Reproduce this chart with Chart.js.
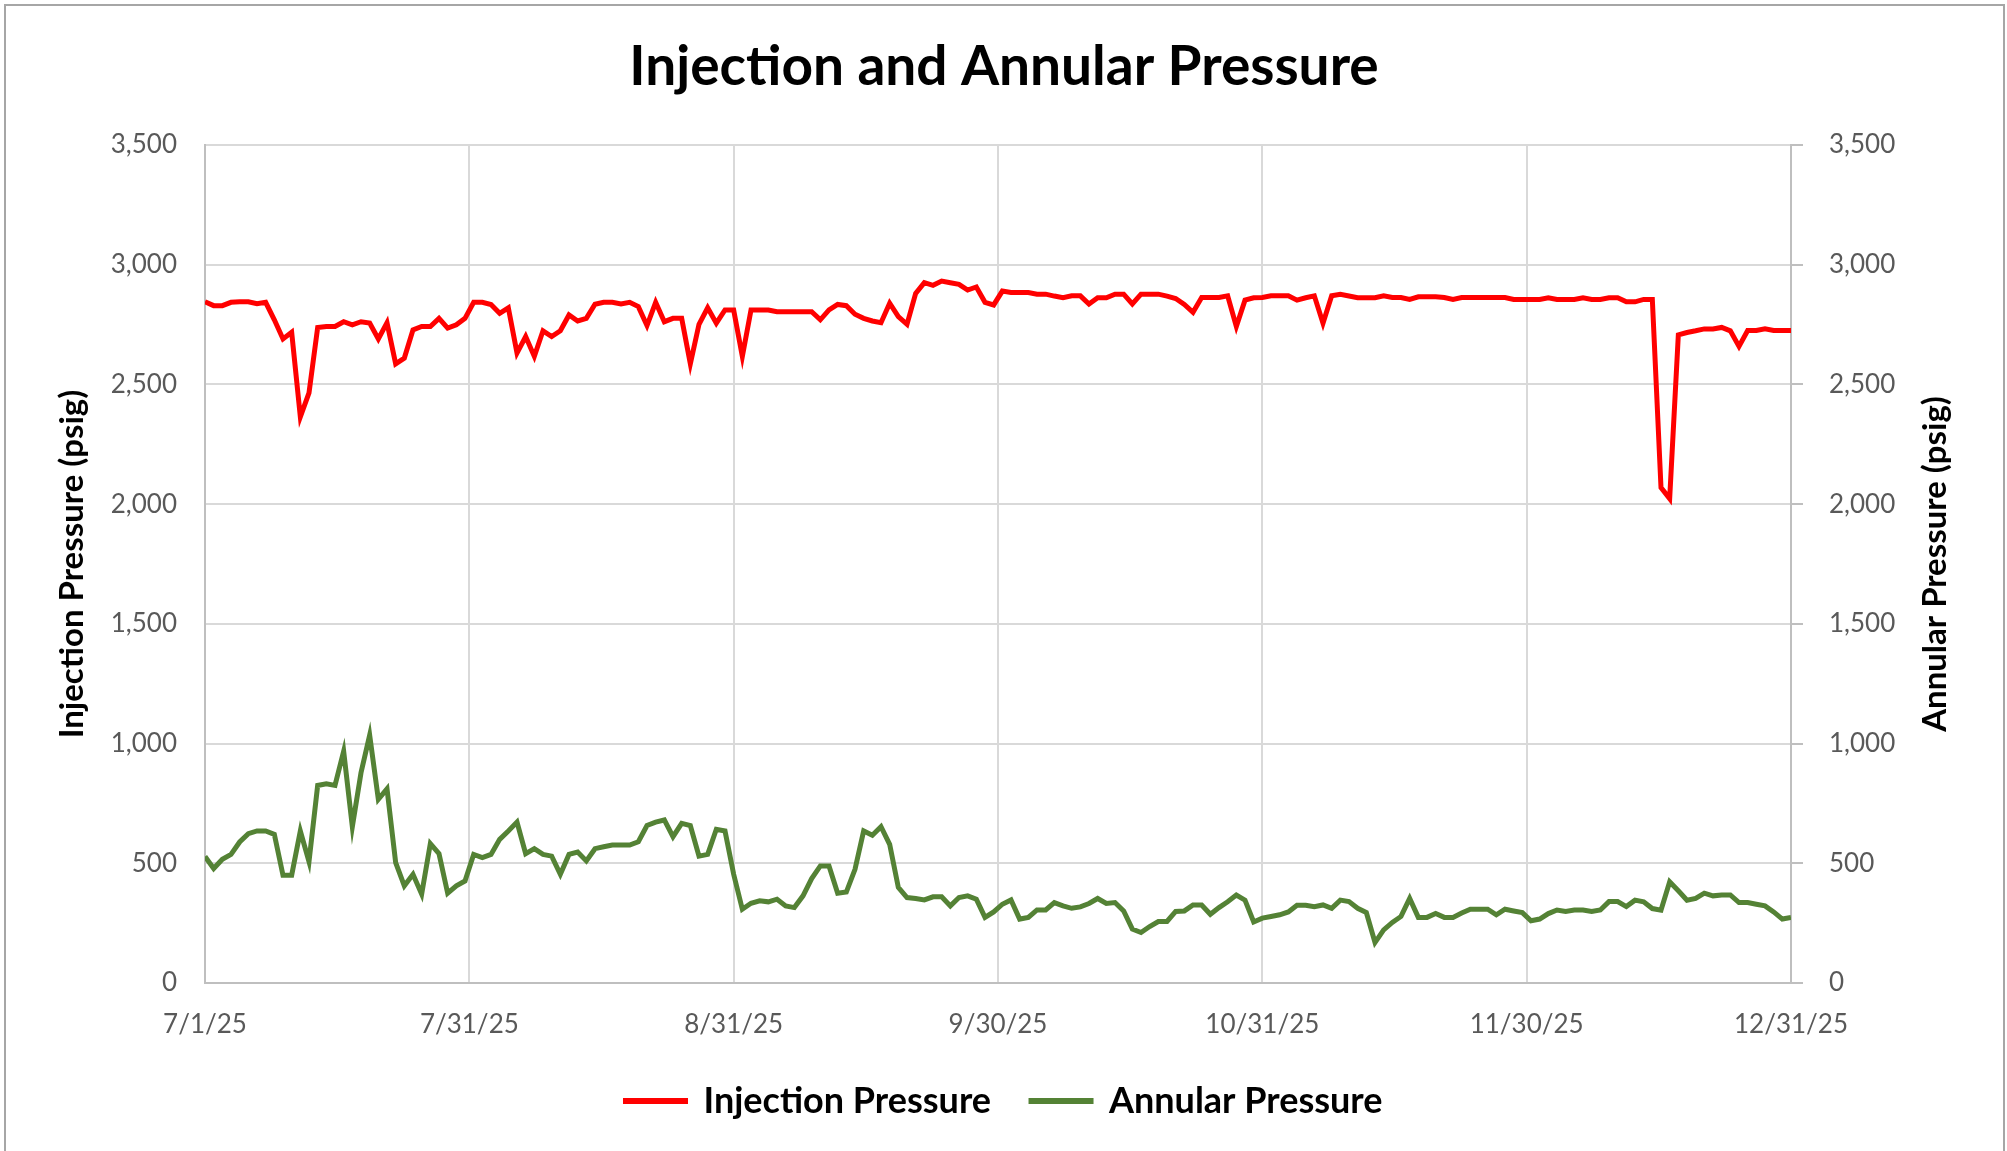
<!DOCTYPE html>
<html>
<head>
<meta charset="utf-8">
<title>Injection and Annular Pressure</title>
<script src="https://cdn.jsdelivr.net/npm/chart.js@4/dist/chart.umd.min.js"></script>
<style>
  html, body { margin: 0; padding: 0; background: #fff; }
  #wrap { width: 2007px; height: 1151px; position: relative; }
</style>
</head>
<body>
<div id="wrap"><canvas id="pressureChart"></canvas></div>
<script>
// daily readings, 7/1/25 .. 12/31/25
const injectionPressure = [
  2845, 2829, 2829, 2843, 2845, 2845, 2837, 2843, 2770, 2690,
  2718, 2365, 2465, 2738, 2742, 2742, 2762, 2749, 2762, 2756,
  2690, 2758, 2586, 2610, 2728, 2742, 2742, 2776, 2735, 2749,
  2776, 2843, 2843, 2834, 2797, 2820, 2631, 2700, 2617, 2724,
  2700, 2724, 2790, 2765, 2776, 2835, 2843, 2843, 2836, 2843,
  2825, 2746, 2843, 2762, 2776, 2776, 2586, 2751, 2820, 2756,
  2811, 2811, 2617, 2811, 2811, 2811, 2804, 2804, 2804, 2804,
  2804, 2770, 2811, 2834, 2829, 2793, 2776, 2765, 2758, 2839,
  2783, 2751, 2880, 2925, 2914, 2932, 2925, 2918, 2894, 2907,
  2843, 2832, 2890, 2884, 2884, 2884, 2877, 2877, 2869, 2862,
  2870, 2870, 2836, 2862, 2862, 2877, 2877, 2836, 2877, 2877,
  2877, 2869, 2859, 2834, 2801, 2863, 2863, 2863, 2870, 2742,
  2852, 2862, 2863, 2870, 2870, 2870, 2852, 2862, 2870, 2756,
  2870, 2876, 2869, 2862, 2862, 2862, 2870, 2863, 2863, 2855,
  2866, 2866, 2866, 2863, 2855, 2863, 2863, 2863, 2863, 2863,
  2863, 2855, 2855, 2855, 2855, 2862, 2855, 2855, 2855, 2862,
  2855, 2855, 2862, 2862, 2845, 2845, 2855, 2855, 2069, 2023,
  2707, 2717, 2724, 2732, 2732, 2738, 2724, 2659, 2725, 2725,
  2732, 2725, 2725, 2725
];

const annularPressure = [
  528, 478, 517, 537, 589, 624, 635, 635, 621, 450,
  450, 635, 507, 825, 832, 825, 968, 653, 878, 1035,
  767, 811, 503, 406, 454, 371, 582, 540, 375, 406,
  426, 537, 524, 537, 600, 635, 672, 540, 561, 537,
  530, 454, 537, 547, 510, 561, 569, 576, 576, 576,
  590, 658, 672, 681, 611, 667, 658, 530, 537, 642,
  635, 454, 308, 333, 343, 339, 350, 322, 315, 364,
  436, 489, 489, 375, 380, 475, 635, 617, 653, 579,
  399, 357, 353, 347, 360, 360, 322, 357, 364, 350,
  274, 297, 329, 347, 267, 274, 305, 305, 336, 322,
  312, 318, 332, 353, 332, 336, 301, 225, 211, 236,
  257, 257, 299, 301, 326, 326, 287, 315, 339, 367,
  346, 255, 271, 278, 285, 297, 325, 325, 319, 326,
  312, 346, 340, 312, 294, 169, 222, 253, 278, 353,
  274, 274, 290, 274, 274, 292, 308, 308, 308, 285,
  308, 301, 294, 260, 267, 290, 305, 299, 305, 305,
  299, 305, 340, 340, 319, 346, 339, 311, 304, 423,
  385, 346, 353, 375, 364, 368, 368, 336, 336, 329,
  322, 297, 267, 274
];

const xTickLabels = ["7/1/25", "7/31/25", "8/31/25", "9/30/25", "10/31/25", "11/30/25", "12/31/25"];
const yTicks = [0, 500, 1000, 1500, 2000, 2500, 3000, 3500];

const days = injectionPressure.length;
const xTickPos = xTickLabels.map((_, k) => k * (days - 1) / (xTickLabels.length - 1));

const gridColor = "#d9d9d9";
const axisColor = "#bfbfbf";
const tickFont = { family: "Lato", size: 26 };
const titleFont = { family: "Lato", size: 33, weight: "bold" };
const rightTitle = "Annular Pressure (psig)";

// white background + thin outer frame
const frame = {
  id: "frame",
  beforeDraw(chart) {
    const c = chart.ctx;
    c.save();
    c.fillStyle = "#fff";
    c.fillRect(0, 0, chart.width, chart.height);
    c.strokeStyle = "#a6a6a6";
    c.lineWidth = 2;
    c.strokeRect(5, 5, chart.width - 8, chart.height - 4);
    c.restore();
  }
};

// Chart.js turns right-hand axis titles the other way, so write this one by hand
const rightAxisTitle = {
  id: "rightAxisTitle",
  afterDraw(chart) {
    const c = chart.ctx;
    const area = chart.chartArea;
    const s = chart.scales.y2;
    c.save();
    c.translate(s.right - titleFont.size * 0.6, (area.top + area.bottom) / 2);
    c.rotate(-Math.PI / 2);
    c.font = "bold " + titleFont.size + "px " + titleFont.family;
    c.fillStyle = "#000";
    c.textAlign = "center";
    c.textBaseline = "middle";
    c.fillText(rightTitle, 0, 0);
    c.restore();
  }
};

const ctx = document.getElementById("pressureChart");

new Chart(ctx.getContext("2d"), {
  type: "line",
  data: {
    datasets: [
      {
        label: "Injection Pressure",
        data: injectionPressure.map((v, i) => ({ x: i, y: v })),
        borderColor: "#ff0000",
        backgroundColor: "#ff0000",
        borderWidth: 5,
        pointRadius: 0,
        tension: 0,
        yAxisID: "y",
      },
      {
        label: "Annular Pressure",
        data: annularPressure.map((v, i) => ({ x: i, y: v })),
        borderColor: "#548235",
        backgroundColor: "#548235",
        borderWidth: 5,
        pointRadius: 0,
        tension: 0,
        yAxisID: "y2",
      },
    ],
  },
  options: {
    responsive: true,
    maintainAspectRatio: false,
    animation: false,
    devicePixelRatio: 1,
    layout: { padding: { left: 53, right: 52, top: 0, bottom: 22 } },
    plugins: {
      title: {
        display: true,
        text: "Injection and Annular Pressure",
        color: "#000",
        font: { family: "Lato", size: 55, weight: "bold" },
        padding: { top: 34, bottom: 45 },
      },
      legend: {
        display: true,
        position: "bottom",
        labels: {
          color: "#000",
          font: { family: "Lato", size: 36, weight: "bold" },
          boxWidth: 60,
          boxHeight: 1,
          padding: 40,
        },
      },
      tooltip: { enabled: false },
    },
    scales: {
      x: {
        type: "linear",
        min: 0,
        max: days - 1,
        afterBuildTicks: (scale) => {
          scale.ticks = xTickPos.map((v) => ({ value: v }));
        },
        afterFit: (scale) => { scale.height = 60; },
        ticks: {
          color: "#595959",
          font: tickFont,
          padding: 26,
          maxRotation: 0,
          autoSkip: false,
          callback: (v, i) => xTickLabels[i],
        },
        grid: { color: gridColor, lineWidth: 2, drawTicks: false },
        border: { color: axisColor, width: 2 },
      },
      y: {
        position: "left",
        min: 0,
        max: 3500,
        afterBuildTicks: (scale) => {
          scale.ticks = yTicks.map((v) => ({ value: v }));
        },
        afterFit: (scale) => { scale.width = 152; },
        ticks: {
          color: "#595959",
          font: tickFont,
          padding: 28,
          callback: (v) => v.toLocaleString("en-US"),
        },
        grid: { color: gridColor, lineWidth: 2, drawTicks: false },
        border: { color: axisColor, width: 2 },
        title: {
          display: true,
          text: "Injection Pressure (psig)",
          color: "#000",
          font: titleFont,
          padding: { top: 0, bottom: 0 },
        },
      },
      y2: {
        position: "right",
        min: 0,
        max: 3500,
        afterBuildTicks: (scale) => {
          scale.ticks = yTicks.map((v) => ({ value: v }));
        },
        afterFit: (scale) => { scale.width = 164; },
        ticks: {
          color: "#595959",
          font: tickFont,
          padding: 26,
          callback: (v) => v.toLocaleString("en-US"),
        },
        grid: {
          drawOnChartArea: false,
          drawTicks: true,
          tickLength: 12,
          tickColor: axisColor,
          lineWidth: 2,
        },
        border: { color: axisColor, width: 2 },
      },
    },
  },
  plugins: [frame, rightAxisTitle],
});
</script>
</body>
</html>
